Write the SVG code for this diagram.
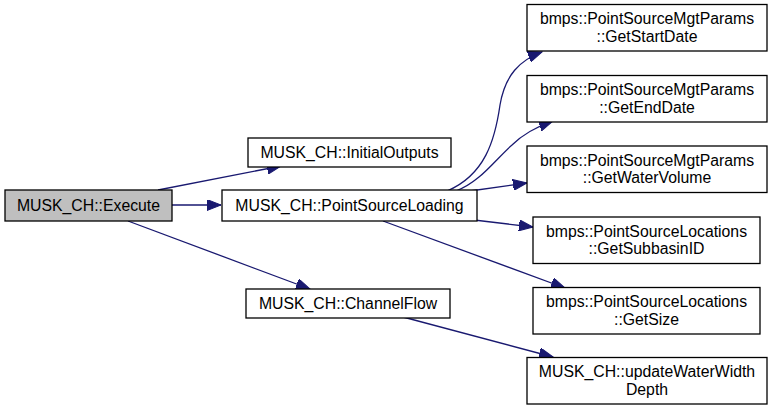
<svg xmlns="http://www.w3.org/2000/svg" width="773" height="409" viewBox="0 0 773 409">
<style>
.n rect{fill:#ffffff;stroke:#000000;stroke-width:1.3}
.n.root rect{fill:#bfbfbf}
.n text{font-family:"Liberation Sans",Arial,Helvetica,sans-serif;font-size:15.8px;fill:#000000;text-anchor:middle}
#edges path{fill:none;stroke:#191970;stroke-width:1.3;marker-end:url(#ah)}
</style>
<defs>
<marker id="ah" markerUnits="userSpaceOnUse" markerWidth="15" markerHeight="11" refX="14" refY="5.5" orient="auto" viewBox="0 0 15 11">
<path d="M0,0 L14,5.5 L0,11 z" fill="#191970" stroke="#191970" stroke-width="1"/>
</marker>
</defs>
<rect width="773" height="409" fill="#ffffff"/>
<g id="edges">
<path d="M158,190 L281,166"/>
<path d="M172,205 L221,205"/>
<path d="M128,221 L310,289"/>
<path d="M447,191 C485,175 495,140 500,105 C505,75 520,60 542,52"/>
<path d="M456,191 C480,182 495,160 512,145 C522,135 536,127 553,121"/>
<path d="M470,191 L527,183"/>
<path d="M474,220 L533,227"/>
<path d="M383,221 L565,288"/>
<path d="M403,317 L553,357"/>
</g>
<g id="execute" class="n root"><rect x="5" y="190" width="167" height="31"/><text x="88.5" y="211">MUSK_CH::Execute</text></g>
<g id="initialoutputs" class="n"><rect x="248" y="138" width="203" height="29"/><text x="349.5" y="158">MUSK_CH::InitialOutputs</text></g>
<g id="pointsourceloading" class="n"><rect x="222" y="190" width="255" height="31"/><text x="349.5" y="211">MUSK_CH::PointSourceLoading</text></g>
<g id="channelflow" class="n"><rect x="246" y="289" width="204" height="29"/><text x="348" y="309">MUSK_CH::ChannelFlow</text></g>
<g id="getstartdate" class="n"><rect x="527" y="4.5" width="240" height="46.5"/><text x="647" y="24">bmps::PointSourceMgtParams</text><text x="647" y="41.5">::GetStartDate</text></g>
<g id="getenddate" class="n"><rect x="527" y="75.5" width="240" height="46.5"/><text x="647" y="95">bmps::PointSourceMgtParams</text><text x="647" y="112.5">::GetEndDate</text></g>
<g id="getwatervolume" class="n"><rect x="527" y="146" width="240" height="46.5"/><text x="647" y="165.5">bmps::PointSourceMgtParams</text><text x="647" y="183">::GetWaterVolume</text></g>
<g id="getsubbasinid" class="n"><rect x="533" y="217" width="227" height="46.5"/><text x="646.5" y="236.5">bmps::PointSourceLocations</text><text x="646.5" y="254">::GetSubbasinID</text></g>
<g id="getsize" class="n"><rect x="533" y="287.5" width="227" height="46.5"/><text x="646.5" y="307">bmps::PointSourceLocations</text><text x="646.5" y="324.5">::GetSize</text></g>
<g id="updatewaterwidthdepth" class="n"><rect x="527" y="357.5" width="240" height="46.5"/><text x="647" y="377">MUSK_CH::updateWaterWidth</text><text x="647" y="394.5">Depth</text></g>
</svg>
